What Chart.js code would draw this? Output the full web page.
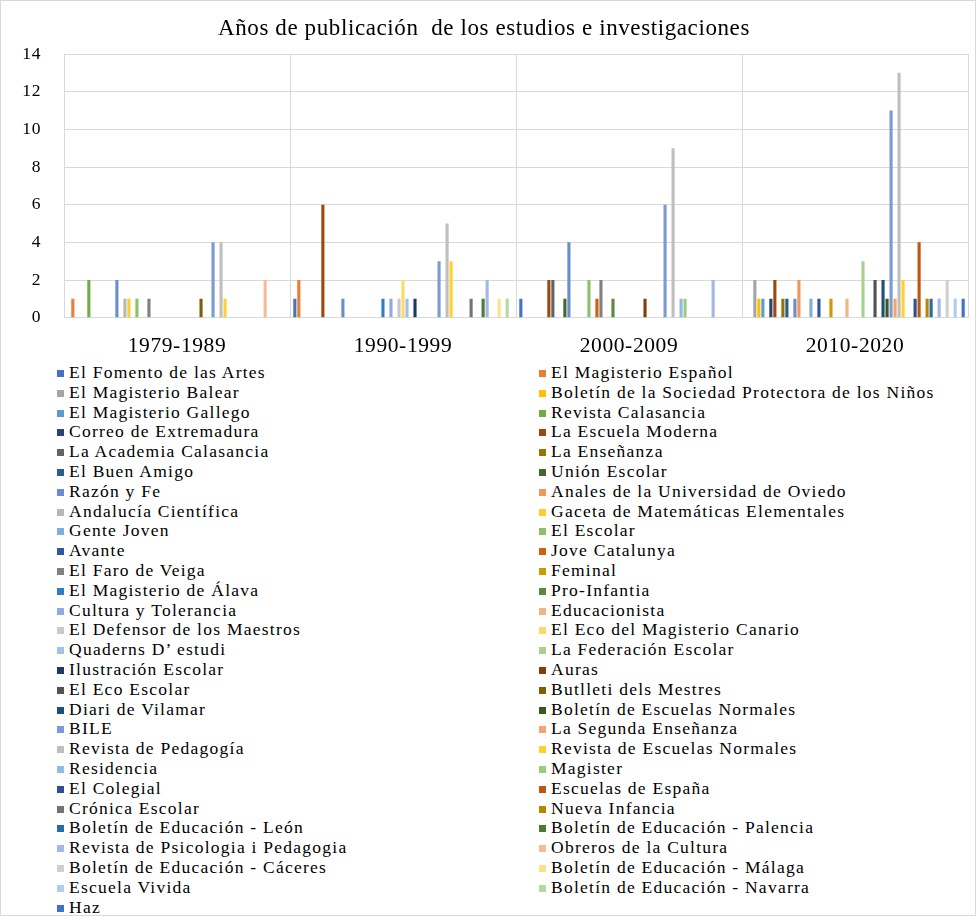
<!DOCTYPE html>
<html lang="es">
<head>
<meta charset="utf-8">
<title>Años de publicación de los estudios e investigaciones</title>
<script src="https://cdn.jsdelivr.net/npm/chart.js@4.4.1/dist/chart.umd.min.js"></script>
<style>
    body { margin: 0; background: #fff; }
    #frame {
        position: absolute; left: 0; top: 0;
        width: 976px; height: 916px;
        border: 1px solid #d9d9d9; box-sizing: border-box;
    }
    #chartBox { position: absolute; left: 0; top: 0; width: 977px; height: 362px; }
    #legend {
        position: absolute; left: 57px; top: 363px;
        display: grid; grid-template-columns: 482px 420px;
        font-family: 'Liberation Serif', 'Times New Roman', serif;
        font-size: 17.5px; letter-spacing: 1.25px; color: #000;
    }
    .item { height: 19.8px; line-height: 19.8px; white-space: nowrap; }
    .swatch { display: inline-block; width: 7px; height: 7px; margin-right: 5px; vertical-align: 1px; }
</style>
</head>
<body>
<div id="frame"></div>
<div id="chartBox"><canvas id="pubChart"></canvas></div>
<div id="legend"></div>
<script>
// Décennies (catégories de l'axe X)
const periods = ['1979-1989', '1990-1999', '2000-2009', '2010-2020'];

// Revistas, dans l'ordre de la légende
const journals = [
    'El Fomento de las Artes', 'El Magisterio Español', 'El Magisterio Balear',
    'Boletín de la Sociedad Protectora de los Niños', 'El Magisterio Gallego', 'Revista Calasancia',
    'Correo de Extremadura', 'La Escuela Moderna', 'La Academia Calasancia', 'La Enseñanza',
    'El Buen Amigo', 'Unión Escolar', 'Razón y Fe', 'Anales de la Universidad de Oviedo',
    'Andalucía Científica', 'Gaceta de Matemáticas Elementales', 'Gente Joven', 'El Escolar',
    'Avante', 'Jove Catalunya', 'El Faro de Veiga', 'Feminal', 'El Magisterio de Álava',
    'Pro-Infantia', 'Cultura y Tolerancia', 'Educacionista', 'El Defensor de los Maestros',
    'El Eco del Magisterio Canario', 'Quaderns D’ estudi', 'La Federación Escolar',
    'Ilustración Escolar', 'Auras', 'El Eco Escolar', 'Butlleti dels Mestres', 'Diari de Vilamar',
    'Boletín de Escuelas Normales', 'BILE', 'La Segunda Enseñanza', 'Revista de Pedagogía',
    'Revista de Escuelas Normales', 'Residencia', 'Magister', 'El Colegial', 'Escuelas de España',
    'Crónica Escolar', 'Nueva Infancia', 'Boletín de Educación - León', 'Boletín de Educación - Palencia',
    'Revista de Psicologia i Pedagogia', 'Obreros de la Cultura', 'Boletín de Educación - Cáceres',
    'Boletín de Educación - Málaga', 'Escuela Vivida', 'Boletín de Educación - Navarra', 'Haz'
];

// Nombre d'études par revue, une liste par période (même ordre que journals)
const counts1979 = [0,1,0,0,0,2,0,0,0,0, 0,0,2,0,1,1,0,1,0,0, 1,0,0,0,0,0,0,0,0,0, 0,0,0,1,0,0,4,0,4,1, 0,0,0,0,0,0,0,0,0,2, 0,0,0,0,0];
const counts1990 = [1,2,0,0,0,0,0,6,0,0, 0,0,1,0,0,0,0,0,0,0, 0,0,1,0,1,0,1,2,1,0, 1,0,0,0,0,0,3,0,5,3, 0,0,0,0,1,0,0,1,2,0, 0,1,0,1,0];
const counts2000 = [1,0,0,0,0,0,0,2,2,0, 0,1,4,0,0,0,0,2,0,1, 2,0,0,1,0,0,0,0,0,0, 0,1,0,0,0,0,6,0,9,0, 1,1,0,0,0,0,0,0,2,0, 0,0,0,0,0];
const counts2010 = [0,0,2,1,1,0,1,2,0,1, 1,0,1,2,0,0,1,0,1,0, 0,1,0,0,0,1,0,0,0,3, 0,0,2,0,2,1,11,1,13,2, 0,0,1,4,0,1,1,0,1,0, 2,0,1,0,1];

// Couleurs (palette Office)
const colors = [
    '#4472C4', '#ED7D31', '#A5A5A5', '#FFC000', '#5B9BD5', '#70AD47',
    '#264478', '#9E480E', '#636363', '#997300', '#255E91', '#43682B',
    '#698ED0', '#F1975A', '#B7B7B7', '#FFCD33', '#7CAFDD', '#8CC168',
    '#3355A0', '#D0600F', '#808080', '#CC9900', '#2F7EC5', '#5A8A3A',
    '#8FAADC', '#F4B183', '#C9C9C9', '#FFD966', '#9DC3E6', '#A9D18E',
    '#203864', '#843C0C', '#525252', '#7F6000', '#1F4E79', '#385723',
    '#7A9BD5', '#F3A470', '#BFBFBF', '#FFD12F', '#8DBBE3', '#9BCB7B',
    '#2D4F8E', '#C0550E', '#737373', '#B38800', '#2A6BA6', '#4E7B32',
    '#A3B8E4', '#F7BC96', '#D0D0D0', '#FFE08A', '#AECEEB', '#B6D8A2',
    '#4070C8'
];

Chart.defaults.font.family = "'Liberation Serif', 'Times New Roman', serif";
Chart.defaults.color = '#000';

const datasets = journals.map((name, i) => ({
    label: name,
    data: [counts1979[i], counts1990[i], counts2000[i], counts2010[i]],
    backgroundColor: colors[i],
    borderWidth: 0,
    categoryPercentage: 0.975,
    barPercentage: 0.78
}));

// Espacement des lettres (le texte de l'original est un peu étiré)
const spacingPlugin = {
    id: 'spacing',
    beforeDraw(chart) {
        chart.ctx.letterSpacing = '0.6px';
    }
};

new Chart(document.getElementById('pubChart'), {
    type: 'bar',
    data: { labels: periods, datasets: datasets },
    plugins: [spacingPlugin],
    options: {
        responsive: true,
        maintainAspectRatio: false,
        animation: false,
        layout: { padding: { left: 0, right: 9, top: 0, bottom: 0 } },
        scales: {
            x: {
                grid: { color: '#d9d9d9', drawTicks: false },
                border: { color: '#d9d9d9' },
                ticks: { font: { size: 21.5 }, padding: 16 },
                afterFit(scale) { scale.height = 44.3; }
            },
            y: {
                min: 0,
                max: 14,
                ticks: { stepSize: 2, font: { size: 17.5 }, padding: 23 },
                grid: { color: '#d9d9d9', drawTicks: false },
                border: { color: '#d9d9d9' },
                afterFit(scale) { scale.width = 64; }
            }
        },
        plugins: {
            legend: { display: false },
            tooltip: { enabled: false },
            title: {
                display: true,
                text: 'Años de publicación  de los estudios e investigaciones',
                font: { size: 23, weight: 'normal' },
                padding: { top: 15.5, bottom: 10.9 }
            }
        }
    }
});

// Légende HTML sur deux colonnes
const legendEl = document.getElementById('legend');
journals.forEach((name, i) => {
    const item = document.createElement('div');
    item.className = 'item';
    const sw = document.createElement('span');
    sw.className = 'swatch';
    sw.style.background = colors[i];
    item.appendChild(sw);
    item.appendChild(document.createTextNode(name));
    legendEl.appendChild(item);
});
</script>
</body>
</html>
